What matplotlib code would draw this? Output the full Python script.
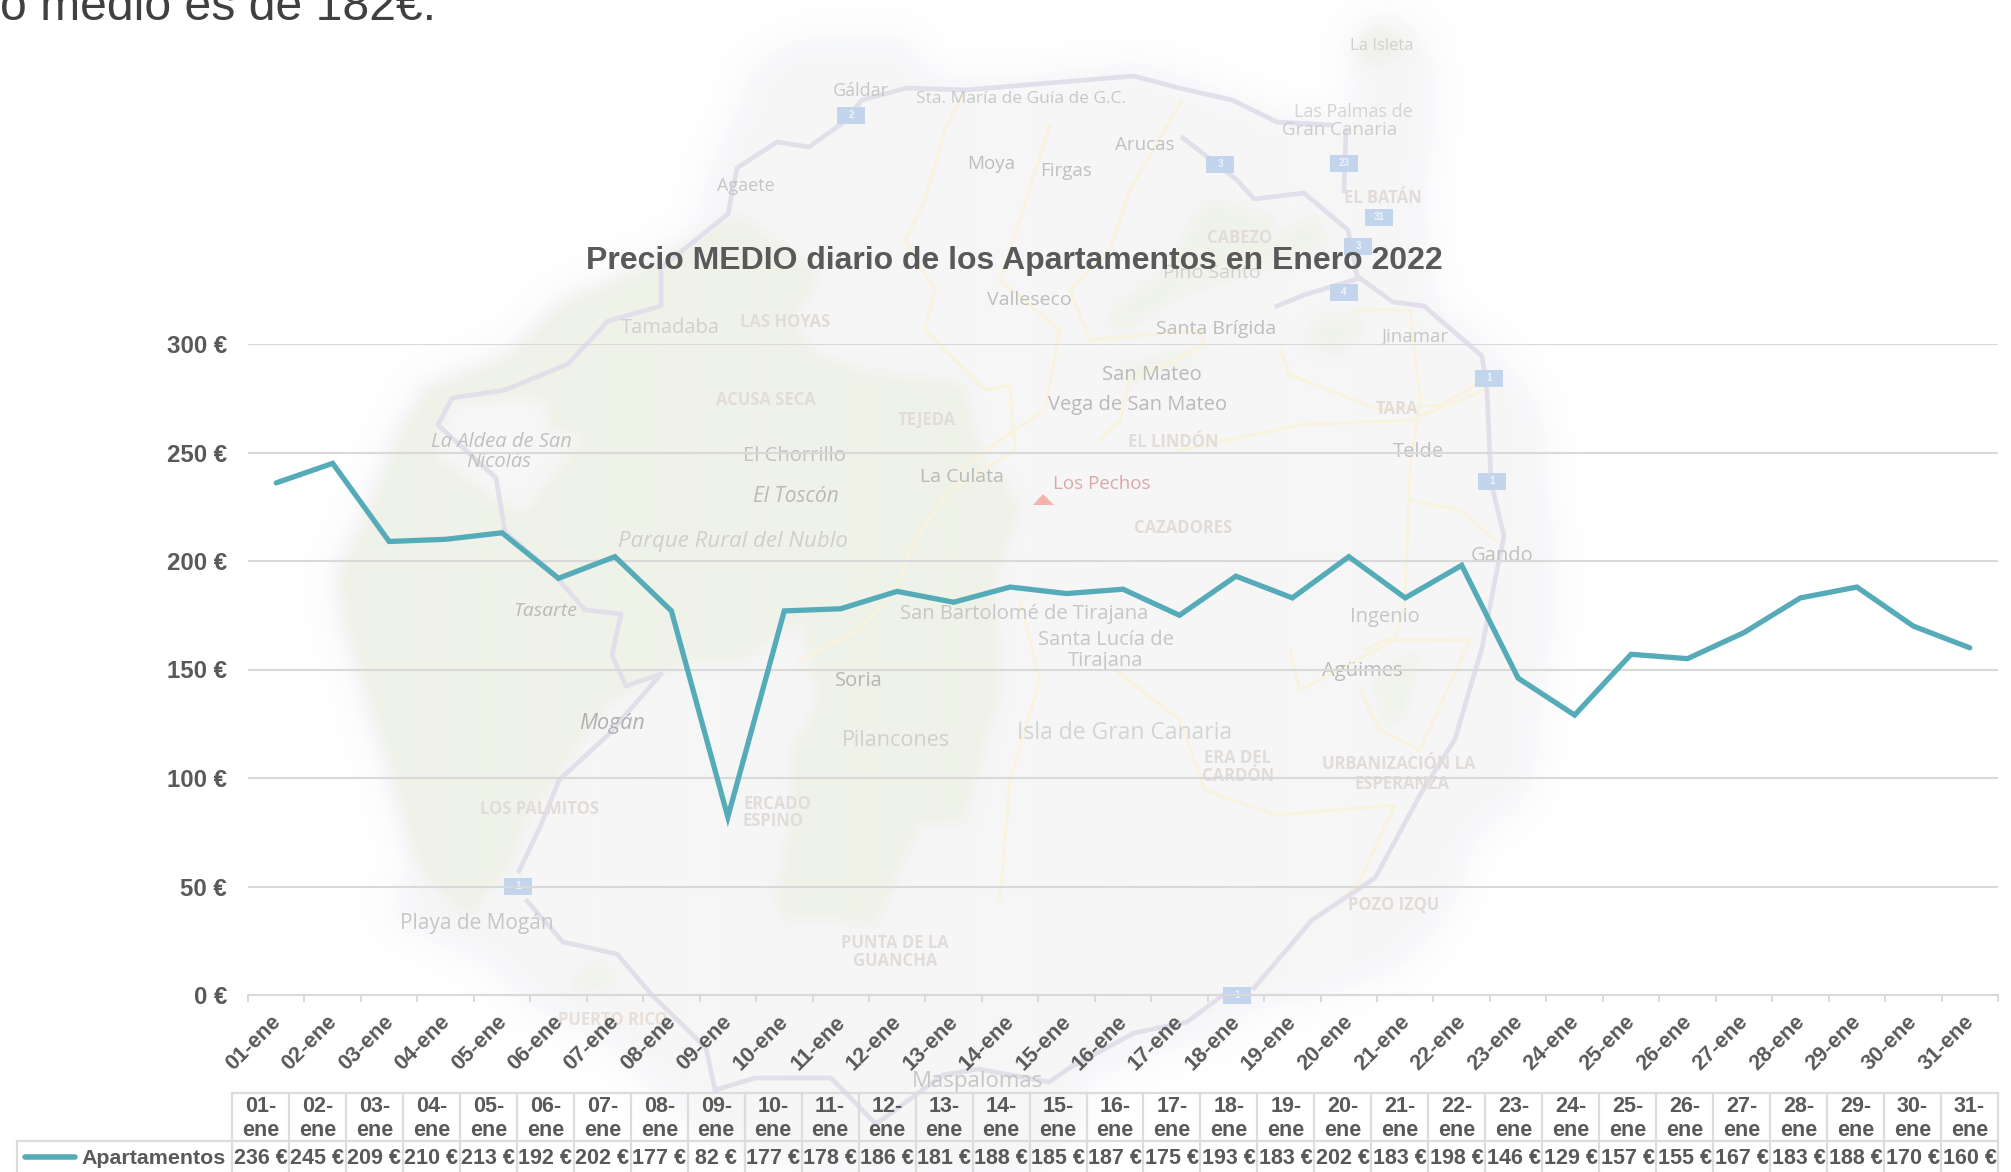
import matplotlib
matplotlib.use("Agg")
import matplotlib.pyplot as plt
from matplotlib.patches import Polygon, Rectangle
from matplotlib.path import Path
from matplotlib.colors import to_rgb
from matplotlib.transforms import ScaledTranslation
import numpy as np

plt.rcParams['font.family'] = ['Liberation Sans', 'DejaVu Sans']

# chart data
dias = [f"{d:02d}-ene" for d in range(1, 32)]
precios = [236, 245, 209, 210, 213, 192, 202, 177, 82, 177, 178, 186, 181, 188, 185, 187,
           175, 193, 183, 202, 183, 198, 146, 129, 157, 155, 167, 183, 188, 170, 160]
y_ticks = [0, 50, 100, 150, 200, 250, 300]
serie = "Apartamentos"
titulo = "Precio MEDIO diario de los Apartamentos en Enero 2022"
texto_superior = "o medio es de 182€."

# faded background map, all in picture pixels
isla = [(1384, 15), (1424, 50), (1424, 115), (1420, 191), (1424, 306), (1491, 356), (1513, 383),
        (1536, 421), (1540, 497), (1549, 574), (1549, 588), (1536, 693), (1522, 791), (1464, 837),
        (1446, 901), (1402, 958), (1312, 991), (1250, 999), (1214, 1025), (1134, 1052), (1067, 1078),
        (1080, 1110), (1040, 1172), (831, 1172), (710, 1127), (666, 1086), (608, 1033), (532, 995),
        (496, 958), (394, 912), (420, 871), (385, 750), (344, 618), (340, 574), (367, 517), (398, 440),
        (425, 390), (510, 356), (559, 306), (661, 260), (710, 230), (715, 180), (742, 126), (760, 70),
        (800, 50), (900, 45), (925, 85), (1000, 88), (1147, 73), (1250, 111), (1290, 126), (1370, 115),
        (1357, 50)]
verde_oeste = [(742, 214), (822, 275), (795, 318), (813, 352), (867, 371), (965, 383), (974, 421),
               (983, 459), (1023, 505), (996, 574), (1000, 693), (965, 822), (920, 825), (876, 927),
               (831, 920), (786, 920), (777, 901), (791, 807), (791, 750), (818, 701), (800, 621),
               (742, 663), (697, 663), (661, 674), (608, 705), (563, 769), (527, 822), (510, 871),
               (469, 916), (452, 905), (420, 871), (385, 750), (344, 618), (340, 574), (367, 517),
               (398, 440), (425, 390), (510, 356), (559, 306), (661, 260), (710, 230)]
claro_aldea = [(452, 398), (545, 398), (550, 432), (585, 436), (523, 513), (496, 497), (434, 455)]
verdes_este = [
    [(1192, 218), (1210, 199), (1277, 218), (1263, 245), (1317, 214), (1330, 245), (1268, 268),
     (1179, 295), (1116, 337), (1112, 310), (1174, 264)],
    [(1321, 314), (1362, 318), (1362, 333), (1339, 356), (1304, 340)],
    [(1375, 680), (1420, 650), (1405, 720), (1385, 725)],
    [(1116, 370), (1180, 350), (1200, 358), (1130, 385)],
    [(568, 985), (595, 960), (620, 975), (600, 995)],
    [(1355, 40), (1384, 25), (1410, 45), (1385, 65), (1360, 60)],
]
carreteras = [
    [(1254, 988), (1312, 920), (1375, 878), (1420, 795), (1455, 739), (1482, 648), (1495, 580),
     (1504, 536), (1491, 482), (1487, 390), (1482, 356), (1424, 306), (1393, 302), (1357, 276),
     (1348, 230), (1304, 193), (1254, 199), (1237, 180), (1183, 138)],
    [(1223, 995), (1187, 1022), (1134, 1033), (1071, 1067), (1049, 1082), (978, 1069), (943, 1075),
     (876, 1124), (831, 1078), (755, 1078), (715, 1090), (706, 1048), (652, 995), (617, 954),
     (563, 942), (527, 901)],
    [(519, 871), (541, 825), (559, 780), (608, 735), (661, 674), (626, 686), (612, 655), (621, 614),
     (585, 610), (559, 580), (554, 574), (505, 532), (496, 478), (438, 425), (452, 398), (505, 390),
     (568, 364), (608, 321), (661, 306), (661, 268), (728, 214), (737, 168), (777, 142), (809, 147),
     (844, 122), (862, 100), (907, 88), (965, 90), (1134, 76), (1179, 88), (1232, 100), (1277, 122),
     (1330, 125)],
    [(1277, 306), (1304, 295), (1357, 279)],
    [(1346, 130), (1344, 191)],
]
caminos = [
    [(965, 92), (945, 130), (925, 200), (905, 240), (935, 290), (925, 330), (985, 390), (1010, 385),
     (1015, 450), (950, 490), (915, 540), (895, 590), (860, 630), (800, 660)],
    [(1050, 125), (1020, 220), (1000, 280), (1060, 330), (1045, 410), (1000, 440), (960, 470)],
    [(1182, 100), (1130, 190), (1110, 250), (1070, 290), (1090, 340), (1200, 330), (1205, 345),
     (1130, 380), (1120, 420), (1100, 440)],
    [(1355, 310), (1410, 310), (1420, 400), (1410, 470), (1405, 600), (1395, 640), (1300, 690),
     (1290, 650)],
    [(1280, 350), (1290, 375), (1380, 410), (1440, 405), (1485, 380)],
    [(1180, 450), (1300, 425), (1410, 420), (1485, 390)],
    [(1410, 500), (1460, 510), (1495, 540)],
    [(1020, 600), (1040, 680), (1010, 780), (1000, 900)],
    [(1115, 670), (1180, 720), (1205, 790), (1275, 815), (1395, 805), (1360, 880), (1340, 900)],
    [(1360, 690), (1380, 730), (1420, 750), (1470, 640), (1385, 640), (1365, 650)],
]
escudos = [(851, 115, "2"), (1220, 164, "3"), (1344, 163, "23"), (1379, 217, "31"), (1358, 246, "3"),
           (1344, 292, "4"), (1489, 378, "1"), (1492, 481, "1"), (518, 886, "1"), (1237, 995, "1")]
# text, x, y, size, italic, colour
etiquetas = [
    ("Gáldar", 861, 91, 13, False, "#c6c6c6"), ("Sta. María de Guía de G.C.", 1021, 99, 12.5, False, "#c8c8c8"),
    ("Agaete", 746, 186, 13, False, "#c6c6c6"), ("Moya", 991, 164, 13.5, False, "#bdbdbd"),
    ("Firgas", 1066, 171, 13.5, False, "#c0c0c0"), ("Arucas", 1145, 145, 13.5, False, "#c0c0c0"),
    ("La Isleta", 1382, 46, 12, False, "#d0d0d0"), ("Las Palmas de", 1353, 112, 13, False, "#d4d4d4"),
    ("Gran Canaria", 1340, 130, 13.5, False, "#cccccc"), ("EL BATÁN", 1383, 198, 12, False, "#e2dcd8"),
    ("CABEZO", 1240, 238, 12, False, "#e2dcd8"), ("Pino Santo", 1212, 273, 14, False, "#d0d0d0"),
    ("Valleseco", 1029, 300, 14, False, "#bdbdbd"), ("Santa Brígida", 1216, 329, 14, False, "#bdbdbd"),
    ("Jinamar", 1415, 337, 13.5, False, "#c6c6c6"), ("Tamadaba", 670, 328, 14.5, False, "#d0d0d0"),
    ("LAS HOYAS", 785, 322, 12, False, "#e2dcd8"), ("San Mateo", 1152, 375, 14.5, False, "#b9b9b9"),
    ("Vega de San Mateo", 1138, 405, 14.5, False, "#b9b9b9"), ("TARA", 1397, 409, 12, False, "#e2dcd8"),
    ("ACUSA SECA", 766, 400, 12, False, "#e2dcd8"), ("TEJEDA", 927, 420, 12, False, "#e2dcd8"),
    ("EL LINDÓN", 1173, 442, 12, False, "#e2dcd8"), ("La Aldea de San", 501, 442, 14.5, True, "#c0c0c0"),
    ("Nicolás", 499, 462, 14.5, True, "#c0c0c0"), ("El Chorrillo", 794, 456, 14.5, False, "#c0c0c0"),
    ("Telde", 1418, 452, 14.5, False, "#c0c0c0"), ("La Culata", 962, 477, 14, False, "#b9b9b9"),
    ("Los Pechos", 1102, 484, 13.5, False, "#dba8a8"), ("El Toscón", 796, 496, 15, True, "#b9b9b9"),
    ("CAZADORES", 1183, 528, 12, False, "#e2dcd8"), ("Parque Rural del Nublo", 733, 541, 16, True, "#cfcfcf"),
    ("Gando", 1502, 556, 14.5, False, "#c0c0c0"), ("Tasarte", 545, 611, 14, True, "#b9b9b9"),
    ("San Bartolomé de Tirajana", 1024, 614, 14.5, False, "#c6c6c6"), ("Ingenio", 1385, 617, 14.5, False, "#c6c6c6"),
    ("Santa Lucía de", 1106, 640, 14.5, False, "#c6c6c6"), ("Tirajana", 1106, 661, 14.5, False, "#c6c6c6"),
    ("Agüimes", 1362, 671, 14.5, False, "#b9b9b9"), ("Soria", 859, 681, 14.5, False, "#b5b5b5"),
    ("Mogán", 612, 723, 15.5, True, "#b0b0b0"), ("Isla de Gran Canaria", 1125, 733, 16.5, False, "#d4d4d4"),
    ("Pilancones", 896, 740, 15.5, False, "#cfcfcf"), ("ERA DEL", 1238, 758, 12, False, "#e2dcd8"),
    ("CARDÓN", 1238, 776, 12, False, "#e2dcd8"), ("URBANIZACIÓN LA", 1399, 764, 12, False, "#e2dcd8"),
    ("ESPERANZA", 1402, 784, 12, False, "#e2dcd8"), ("LOS PALMITOS", 540, 809, 12, False, "#e2dcd8"),
    ("ERCADO", 777, 804, 12, False, "#e2dcd8"), ("ESPINO", 773, 821, 12, False, "#e2dcd8"),
    ("Playa de Mogán", 477, 923, 15, False, "#c6c6c6"), ("PUNTA DE LA", 895, 943, 12, False, "#e2dcd8"),
    ("GUANCHA", 895, 961, 12, False, "#e2dcd8"), ("POZO IZQU", 1394, 905, 12, False, "#e2dcd8"),
    ("PUERTO RICO", 613, 1020, 12, False, "#e8dfd9"), ("Maspalomas", 978, 1081, 16, False, "#c6c6c6"),
]

fig = plt.figure(figsize=(20.11, 11.72), dpi=100, facecolor="white")

# full picture axes in pixels for the map and the data table
fondo = fig.add_axes([0, 0, 1, 1])
fondo.set_xlim(0, 2011)
fondo.set_ylim(1172, 0)
fondo.axis("off")

# soft edged patches: polygon mask on a coarse grid, box blurred, shown as an image
paso = 4
gx, gy = np.meshgrid(np.arange(0, 2011, paso) + paso / 2, np.arange(0, 1172, paso) + paso / 2)
rejilla = np.column_stack([gx.ravel(), gy.ravel()])


def mancha(puntos, color, radio, z, fuerza=1.0):
    mask = Path(puntos + puntos[:1]).contains_points(rejilla).reshape(gx.shape).astype(float)
    nucleo = np.ones(2 * radio + 1) / (2 * radio + 1)
    for _ in range(3):
        mask = np.apply_along_axis(np.convolve, 0, mask, nucleo, mode="same")
        mask = np.apply_along_axis(np.convolve, 1, mask, nucleo, mode="same")
    rgba = np.zeros(mask.shape + (4,))
    rgba[..., :3] = to_rgb(color)
    rgba[..., 3] = mask * fuerza
    fondo.imshow(rgba, extent=(0, 2011, 1172, 0), interpolation="bilinear", zorder=z, aspect="auto")


mancha(isla, "#f0f3fa", 4, 0.5)
mancha(isla, "#f7f7f7", 3, 1)
mancha(verde_oeste, "#eff2e8", 1, 2)
for v in verdes_este:
    mancha(v, "#f0f3ea", 1, 2)
mancha(claro_aldea, "#f7f7f7", 1, 3)
fondo.set_xlim(0, 2011)
fondo.set_ylim(1172, 0)

for c in caminos:
    fondo.plot(*zip(*c), color="#f9f3de", lw=2.2, zorder=3, solid_joinstyle="round")
for c in carreteras:
    fondo.plot(*zip(*c), color="#e3dfea", lw=3.4, zorder=4, solid_joinstyle="round")

for x, y, n in escudos:
    fondo.add_patch(Rectangle((x - 14, y - 8), 28, 17, fc="#c3d5ec", ec="none", zorder=5))
    fondo.text(x, y, n, ha="center", va="center", fontsize=7, color="#eef3fa", fontweight="bold", zorder=5)

fondo.add_patch(Polygon([(1033, 505), (1043, 494), (1054, 505)], closed=True, fc="#f3b4ae", ec="none", zorder=5))

for txt, x, y, tam, ital, col in etiquetas:
    fondo.text(x, y, txt, ha="center", va="center", fontsize=tam, color=col, zorder=6,
               family=["Open Sans", "DejaVu Sans"], style="italic" if ital else "normal",
               fontweight="bold" if txt.isupper() else "normal")

fondo.text(0, 20, texto_superior, fontsize=34.7, color="#404040", ha="left", va="baseline", zorder=10)
fondo.text(1014, 261, titulo, fontsize=23, color="#595959", fontweight="bold", ha="center", va="center", zorder=10)

# line chart
ax = fig.add_axes([248 / 2011, 1 - 995 / 1172, 1750 / 2011, (995 - 344) / 1172])
ax.patch.set_alpha(0)
x = list(range(len(dias)))
ax.plot(x, precios, color="#55abb8", lw=3.8, solid_joinstyle="miter", solid_capstyle="round", zorder=5)
ax.set_xlim(-0.5, len(dias) - 0.5)
ax.set_ylim(0, 300)
ax.set_yticks(y_ticks)
ax.set_yticklabels([f"{v} €" for v in y_ticks], fontsize=17.3, fontweight="bold", color="#595959")
ax.tick_params(axis="y", length=0, pad=15)
ax.set_xticks(x)
ax.set_xticklabels(dias, rotation=45, ha="right", va="top", rotation_mode="anchor",
                   fontsize=15.5, fontweight="bold", color="#595959")
ax.set_xticks([i - 0.5 for i in range(len(dias) + 1)], minor=True)
ax.tick_params(axis="x", which="major", length=0, pad=12)
ax.tick_params(axis="x", which="minor", length=5, width=1.4, color="#d9d9d9")
# tick_params resets label transforms, so shift the labels after it
corrimiento = ScaledTranslation(-4.5 / 72, 0, fig.dpi_scale_trans)
for lab in ax.get_xticklabels():
    lab.set_transform(lab.get_transform() + corrimiento)
ax.grid(axis="y", color="#d9d9d9", lw=1.5)
ax.set_axisbelow(True)
for lado in ["top", "right", "left"]:
    ax.spines[lado].set_visible(False)
ax.spines["bottom"].set_color("#d9d9d9")
ax.spines["bottom"].set_linewidth(1.5)

# data table under the chart
t_izq, t_der = 232, 1998
ancho = (t_der - t_izq) / len(dias)
borde = dict(color="#dcdcdc", lw=1.6, zorder=7)
fondo.plot([t_izq, t_der], [1093, 1093], **borde)
fondo.plot([17, t_der], [1141, 1141], **borde)
fondo.plot([17, 17], [1141, 1172], **borde)
for i in range(len(dias) + 1):
    fondo.plot([t_izq + i * ancho] * 2, [1093, 1172], **borde)
texto_tabla = dict(ha="center", va="center", fontsize=15.5, fontweight="bold", color="#595959", zorder=8)
for i, (d, p) in enumerate(zip(dias, precios)):
    cx = t_izq + (i + 0.5) * ancho
    dia, mes = d.split("-")
    fondo.text(cx, 1106, dia + "-", **texto_tabla)
    fondo.text(cx, 1131, mes, **texto_tabla)
    fondo.text(cx, 1159, f"{p} €", **texto_tabla)
fondo.plot([25, 75], [1157, 1157], color="#55abb8", lw=4, solid_capstyle="round", zorder=8)
fondo.text(81, 1158, serie, ha="left", va="center", fontsize=15.4, fontweight="bold", color="#595959", zorder=8)

fig.savefig("out.png", dpi=100)
